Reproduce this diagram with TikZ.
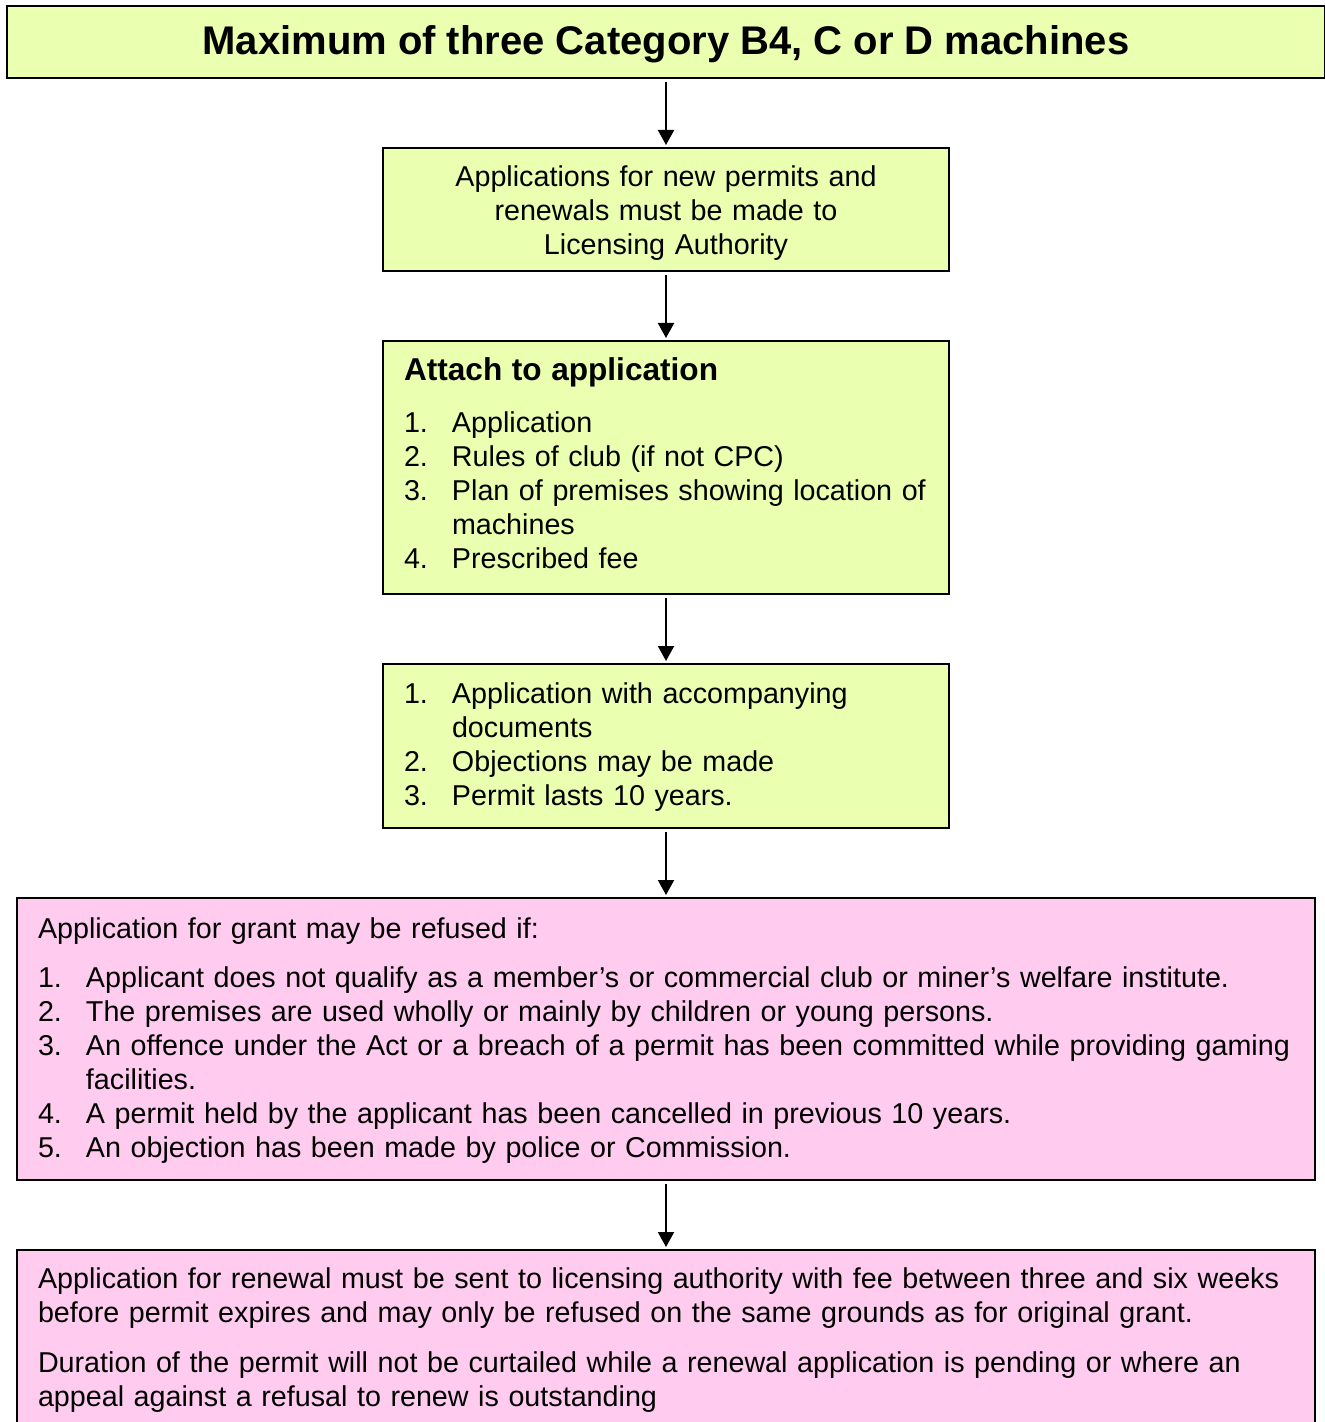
\documentclass[tikz,border=0pt]{standalone}
\usepackage{fontspec}
\setmainfont{Liberation Sans}
\usetikzlibrary{positioning, arrows.meta}
\definecolor{boxgreen}{RGB}{234,255,175}
\definecolor{boxpink}{RGB}{255,204,240}
\tikzset{>={Triangle[length=7.5pt,width=8pt]},node distance=34pt}
\tikzset{
  card/.style={draw=black, line width=1pt, inner xsep=10.5pt, inner ysep=0pt,
    font=\fontsize{14.35}{17}\selectfont},
  titlebox/.style={card, fill=boxgreen, minimum width=659pt, minimum height=36pt,
    font=\bfseries\fontsize{20}{24}\selectfont},
  greenbox/.style={card, fill=boxgreen, text width=262pt},
  pinkbox/.style={card, fill=boxpink, text width=628pt, align=left},
  flow/.style={->, line width=1pt, shorten <=1.5pt, shorten >=1pt}
}
\newcommand{\numitem}[2]{\par\noindent\hangindent=24pt\hangafter=1\makebox[24pt][l]{#1}#2\par}

\begin{document}
\begin{tikzpicture}
\useasboundingbox (0,0) rectangle (662pt,-711pt);
\node[titlebox, text depth=2pt] (title) at (333pt,-21pt) {Maximum of three Category B4, C or D machines};
\node[greenbox, align=center, minimum height=61.5pt, below=of title] (apply)
  {Applications for new permits and\\ renewals must be made to\\ Licensing Authority\par\kern-4pt};
\node[greenbox, align=left, minimum height=126.5pt, below=of apply] (attach) {%
  {\bfseries\fontsize{15.8}{17}\selectfont Attach to application}\par\vspace{9pt}
  \numitem{1.}{Application}
  \numitem{2.}{Rules of club (if not CPC)}
  \numitem{3.}{\mbox{Plan of premises showing location of}\newline machines}
  \numitem{4.}{Prescribed fee}\kern4.5pt};
\node[greenbox, align=left, minimum height=82pt, below=of attach] (docs) {%
  \numitem{1.}{Application with accompanying\newline documents}
  \numitem{2.}{Objections may be made}
  \numitem{3.}{Permit lasts 10 years.}\kern6pt};
\node[pinkbox, minimum height=141pt, below=of docs] (refuse) {%
  \noindent Application for grant may be refused if:\par\vspace{7.5pt}
  \numitem{1.}{\mbox{Applicant does not qualify as a member’s or commercial club or miner’s welfare institute.}}
  \numitem{2.}{The premises are used wholly or mainly by children or young persons.}
  \numitem{3.}{\mbox{An offence under the Act or a breach of a permit has been committed while providing gaming}\newline facilities.}
  \numitem{4.}{A permit held by the applicant has been cancelled in previous 10 years.}
  \numitem{5.}{An objection has been made by police or Commission.}\kern-2pt};
\node[pinkbox, minimum height=90pt, below=of refuse] (renew) {%
  \noindent\mbox{Application for renewal must be sent to licensing authority with fee between three and six weeks}\newline
  before permit expires and may only be refused on the same grounds as for original grant.\par\vspace{8pt}
  \noindent\mbox{Duration of the permit will not be curtailed while a renewal application is pending or where an}\newline
  appeal against a refusal to renew is outstanding};
\draw[flow]
(title) edge (apply)
(apply) edge (attach)
(attach) edge (docs)
(docs) edge (refuse)
(refuse) edge (renew);
\end{tikzpicture}
\end{document}
